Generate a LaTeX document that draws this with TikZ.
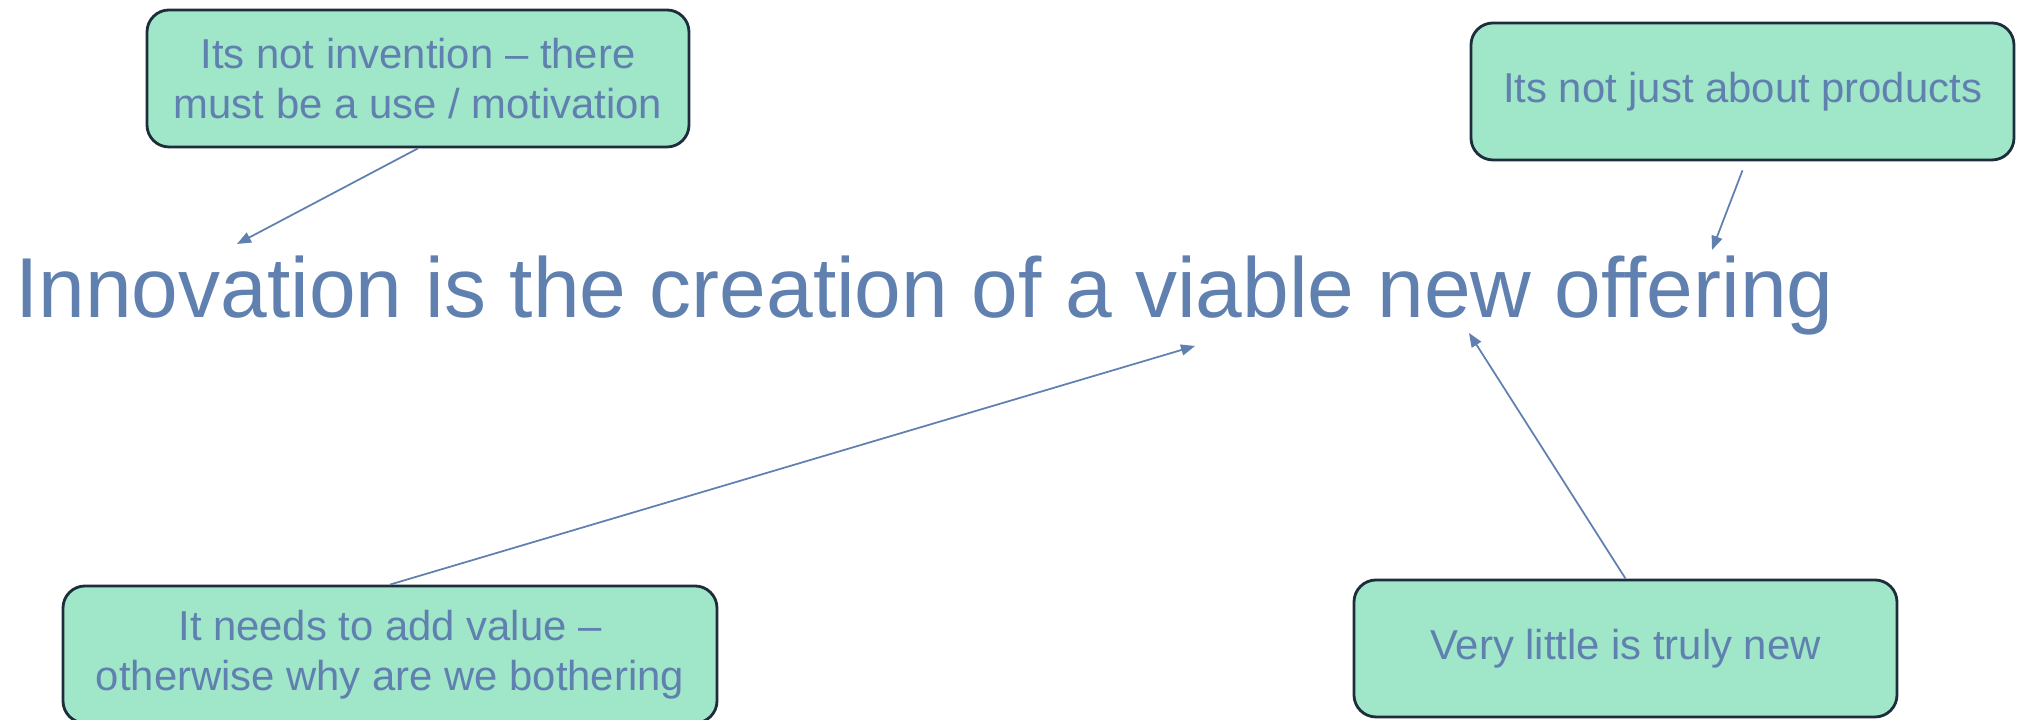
\documentclass[tikz,border=0pt]{standalone}
\usepackage{fontspec}
\setmainfont{Liberation Sans}
\usetikzlibrary{arrows.meta}
\definecolor{txtblue}{RGB}{96,128,176}
\definecolor{mint}{RGB}{160,230,200}
\definecolor{boxedge}{RGB}{30,45,60}

\begin{document}
\begin{tikzpicture}[scale=1,
    note/.style={draw=boxedge,line width=0.8pt,fill=mint,rounded corners=0.22cm,
      minimum height=1.37cm,align=center,text=txtblue,inner sep=0pt,
      font=\fontsize{11.9}{14.2}\selectfont},
    pointer/.style={draw=txtblue,line width=0.5pt,-{Triangle[length=0.14cm,width=0.11cm]}}]
      \useasboundingbox (0,0) rectangle (20.22,7.20);
      \node[anchor=base west,inner sep=0pt,xscale=0.987,text=txtblue,font=\fontsize{24.2}{29}\selectfont] (title) at (0.145,4.02) {Innovation is the creation of a viable new offering};
      \node[note,minimum width=5.42cm] (invention) at (4.18,6.415) {Its not invention -- there\\must be a use / motivation};
      \node[note,minimum width=5.43cm] (products) at (17.425,6.285) {Its not just about products};
      \node[note,minimum width=6.54cm] (value) at (3.90,0.655) {It needs to add value --\\otherwise why are we bothering};
      \node[note,minimum width=5.43cm] (new) at (16.255,0.715) {Very little is truly new};
      %\draw[gray,very thin] (0,0) grid (20,7);
      \coordinate (tipA) at (2.37,4.76);
      \coordinate (tipB) at (17.12,4.70);
      \coordinate (tipC) at (11.95,3.74);
      \coordinate (tipD) at (14.69,3.87);
      \draw[pointer] (invention.south) -- (tipA);
      \draw[pointer] ([yshift=-0.09cm]products.south) -- (tipB);
      \draw[pointer] (value.north) -- (tipC);
      \draw[pointer] (new.north) -- (tipD);
    \end{tikzpicture}
\end{document}
